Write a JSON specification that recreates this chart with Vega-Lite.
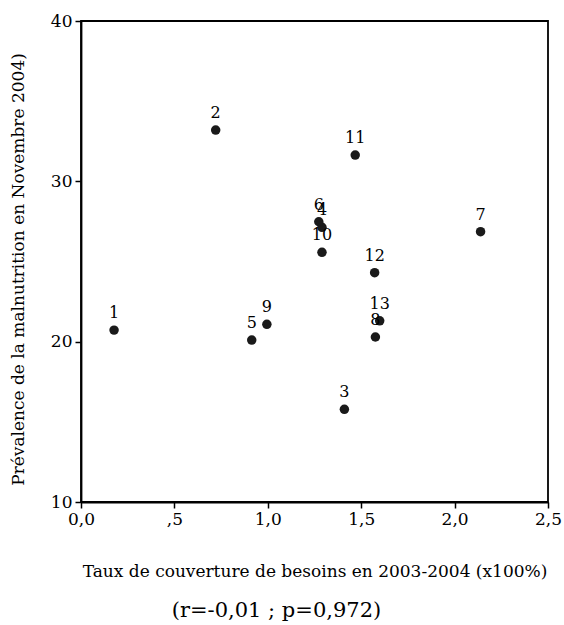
{
  "$schema": "https://vega.github.io/schema/vega-lite/v6.json",
  "autosize": "none",
  "width": 467,
  "height": 481,
  "padding": {"left": 81, "top": 21, "right": 16, "bottom": 123},
  "background": "white",
  "data": {
    "values": [
      {"id": "1", "couverture": 0.177, "prevalence": 20.72},
      {"id": "2", "couverture": 0.721, "prevalence": 33.2},
      {"id": "3", "couverture": 1.41, "prevalence": 15.78},
      {"id": "4", "couverture": 1.29, "prevalence": 27.13},
      {"id": "5", "couverture": 0.914, "prevalence": 20.1},
      {"id": "6", "couverture": 1.273, "prevalence": 27.48},
      {"id": "7", "couverture": 2.139, "prevalence": 26.86},
      {"id": "8", "couverture": 1.576, "prevalence": 20.29},
      {"id": "9", "couverture": 0.995, "prevalence": 21.08},
      {"id": "10", "couverture": 1.29, "prevalence": 25.57},
      {"id": "11", "couverture": 1.468, "prevalence": 31.64},
      {"id": "12", "couverture": 1.572, "prevalence": 24.3},
      {"id": "13", "couverture": 1.599, "prevalence": 21.3}
    ]
  },
  "title": {
    "text": "(r=-0,01 ; p=0,972)",
    "orient": "bottom",
    "anchor": "middle",
    "dx": -38,
    "offset": 21,
    "font": "DejaVu Serif",
    "fontSize": 21,
    "fontWeight": "normal",
    "color": "black"
  },
  "encoding": {
    "x": {
      "field": "couverture",
      "type": "quantitative",
      "scale": {"domain": [0, 2.5], "nice": false, "zero": false},
      "axis": {
        "title": "Taux de couverture de besoins en 2003-2004 (x100%)",
        "values": [0, 0.5, 1, 1.5, 2, 2.5],
        "labelExpr": "datum.value == 0.5 ? ',5' : replace(format(datum.value, '.1f'), '.', ',')",
        "titlePadding": 36
      }
    },
    "y": {
      "field": "prevalence",
      "type": "quantitative",
      "scale": {"domain": [10, 40], "nice": false, "zero": false},
      "axis": {
        "title": "Prévalence de la malnutrition en Novembre 2004)",
        "values": [10, 20, 30, 40],
        "titleX": -54,
        "titleY": 248
      }
    }
  },
  "layer": [
    {
      "mark": {"type": "point", "shape": "circle", "filled": true, "size": 90, "color": "#1a1a1a", "opacity": 1}
    },
    {
      "mark": {"type": "text", "baseline": "middle", "align": "center", "dy": -17, "font": "DejaVu Serif", "fontSize": 16, "color": "black"},
      "encoding": {"text": {"field": "id"}}
    }
  ],
  "config": {
    "view": {"stroke": "black", "strokeWidth": 1.8},
    "axis": {
      "grid": false,
      "domain": true,
      "domainColor": "black",
      "domainWidth": 1.8,
      "tickColor": "black",
      "tickWidth": 1.5,
      "tickSize": 6,
      "labelFont": "DejaVu Serif",
      "labelFontSize": 17,
      "labelColor": "black",
      "labelPadding": 3,
      "titleFont": "DejaVu Serif",
      "titleFontSize": 17,
      "titleFontWeight": "normal",
      "titleColor": "black"
    },
    "axisY": {"labelFlush": false},
    "axisX": {"labelFlush": false}
  }
}
